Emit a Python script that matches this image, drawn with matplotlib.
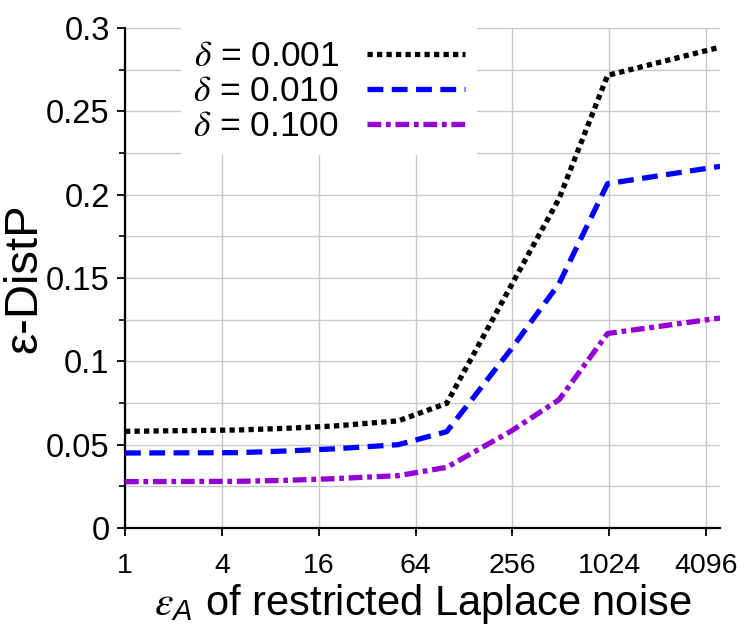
import matplotlib
matplotlib.use("Agg")
import matplotlib.pyplot as plt
from matplotlib.ticker import FixedLocator, FuncFormatter, NullLocator, MultipleLocator

plt.rcParams['font.family'] = ['Liberation Sans', 'DejaVu Sans']
plt.rcParams['mathtext.fontset'] = 'custom'
plt.rcParams['mathtext.rm'] = 'Liberation Sans'
plt.rcParams['mathtext.it'] = 'STIXGeneral:italic'
plt.rcParams['mathtext.sf'] = 'Liberation Sans:italic'

# data
eps_a = [1, 5, 10, 20, 50, 100, 250, 500, 1000, 5000]
d001 = [0.058, 0.0588, 0.0598, 0.0612, 0.0643, 0.0748, 0.145, 0.1977, 0.2716, 0.2885]
d010 = [0.045, 0.0452, 0.0462, 0.0475, 0.0500, 0.0578, 0.107, 0.1467, 0.2066, 0.2170]
d100 = [0.0278, 0.0280, 0.0286, 0.0296, 0.0314, 0.0364, 0.058, 0.0770, 0.1167, 0.1260]
labels = [r'$\delta$ = 0.001', r'$\delta$ = 0.010', r'$\delta$ = 0.100']
xticks = [1, 4, 16, 64, 256, 1024, 4096]
yticks = [0, 0.05, 0.1, 0.15, 0.2, 0.25, 0.3]

fig = plt.figure(figsize=(7.5, 6.3), dpi=100)
ax = fig.add_axes([125/750, 102/630, 595/750, 500/630])

lw = 3.8
ax.plot(eps_a, d001, color='black', lw=lw, dashes=(1.0, 0.8), label=labels[0], zorder=3)
ax.plot(eps_a, d010, color='#0000ff', lw=lw, dashes=(3.0, 1.6), label=labels[1], zorder=3)
ax.plot(eps_a, d100, color='#9400d3', lw=lw, dashes=(2.6, 0.9, 0.9, 0.9), label=labels[2], zorder=3)

ax.set_xscale('log', base=2)
ax.set_xlim(1, 5000)
ax.set_ylim(0, 0.3)
ax.xaxis.set_major_locator(FixedLocator(xticks))
ax.xaxis.set_major_formatter(FuncFormatter(lambda v, p: '%d' % v))
ax.xaxis.set_minor_locator(NullLocator())
ax.yaxis.set_major_locator(FixedLocator(yticks))
ax.yaxis.set_major_formatter(FuncFormatter(lambda v, p: '%g' % v))
ax.yaxis.set_minor_locator(MultipleLocator(0.025))

for s in ['top', 'right']:
    ax.spines[s].set_visible(False)
for s in ['left', 'bottom']:
    ax.spines[s].set_linewidth(1.6)

ax.tick_params(axis='both', which='major', direction='out', length=6, width=1.3, pad=6)
ax.tick_params(axis='y', which='major', labelsize=23.5, pad=5)
ax.tick_params(axis='x', which='major', labelsize=20.5, pad=12)
ax.tick_params(axis='y', which='minor', direction='out', length=4, width=1.2)
ax.grid(True, which='major', color='#c8c8c8', lw=1.0)
ax.grid(True, which='minor', axis='y', color='#c8c8c8', lw=1.0)
ax.set_axisbelow(True)

ax.set_xlabel(r'$\varepsilon_{\mathsf{A}}$ of restricted Laplace noise', fontsize=30, labelpad=2)
ax.set_ylabel('\u03b5-DistP', fontsize=34, labelpad=0)

leg = ax.legend(loc='upper left', bbox_to_anchor=(181/750, 1 - 28/630), bbox_transform=fig.transFigure,
                markerfirst=False, fontsize=25.5, handlelength=2.75, handletextpad=0.8,
                labelspacing=0.05, borderpad=0.35, borderaxespad=0, frameon=True, fancybox=False)
leg.get_frame().set_facecolor('white')
leg.get_frame().set_edgecolor('none')
leg.get_frame().set_alpha(1)

fig.savefig('out.png', dpi=100)
